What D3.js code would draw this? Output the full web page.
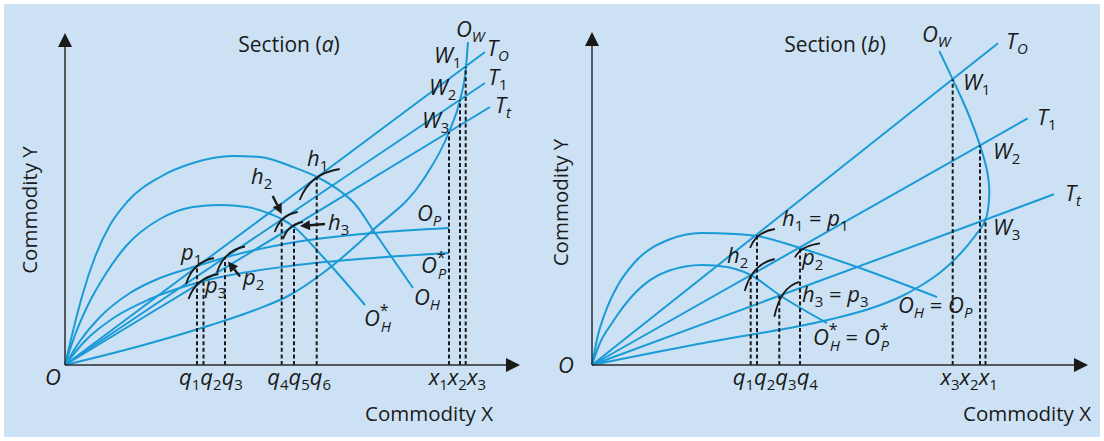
<!DOCTYPE html>
<html>
<head>
<meta charset="utf-8">
<script src="https://cdn.jsdelivr.net/npm/d3@7"></script>
<style>
html, body { margin: 0; padding: 0; background: #fff; }
svg text { font-family: "Open Sans", "Noto Sans", sans-serif; fill: #1a1a1a; }
</style>
</head>
<body>
<div id="chart"></div>
<script>
// ---- Section (a) : values (arbitrary units) ----
const raysA = [[420, 313], [420, 282], [425, 258]];               // T_O, T_1, T_t end points
const ohA = [[0,0],[8,34],[18,72],[30,108],[45,140],[62,163],[95,188],[128,202],[168,209],[195,208],[228,198],[252,188],[275,174],[290,161],[308,135],[348,77]];
const ohStarA = [[0,0],[10,30],[22,58],[40,90],[62,120],[95,146],[128,158],[155,160],[182,158],[208,150],[216.7,146],[229,138],[258,108],[300,60]];
const opA = [[0,0],[15,24],[35,48],[65,72],[95,87],[132,99],[160,107.5],[225,122],[308,132],[384,137]];
const opStarA = [[0,0],[20,24],[50,48],[85,66],[138.5,84],[225,99],[308,107],[384,112]];
const owA = [[0,0],[75,19],[146,40],[190,55],[225,70],[258,92],[308,135],[358,185],[384,233],[395,265],[401,298],[403,323]];
// intersection points that drop to the x axis: p1, p3, p2, h2, h3, h1, W3, W2, W1
const dropsA = [[132,98],[138.5,84],[160,107.5],[216.7,146],[229,139],[251.7,188],[384,233],[395,265],[400.7,298]];
const ticksA = [[["q1","q2","q3"], 0, 2], [["q4","q5","q6"], 3, 5], [["x1","x2","x3"], 6, 8]];
const labelsA = [
  ["OW", 391, 328], ["TO", 422, 309], ["T1", 423, 280], ["Tt", 430, 252],
  ["W1", 369, 302], ["W2", 364, 270], ["W3", 357, 237],
  ["h1", 242, 199], ["h2", 186, 181], ["h3", 263, 135],
  ["p1", 116, 105], ["p3", 140, 72], ["p2", 178, 80],
  ["OP", 352, 144], ["OP*", 356, 92], ["OH", 349, 60], ["OH*", 299, 39]
];

// ---- Section (b) ----
const raysB = [[406, 321.7], [435.7, 246.7], [462, 170.7]];
const ohB = [[0,0],[6,30],[13,52],[26,80],[43,103],[76,125],[110,132],[143,131],[165,129],[208,117],[265,98],[345,68]];
const ohStarB = [[0,0],[8,22],[20,42],[43,72],[76,94],[110,100],[135,98],[158.7,90],[187.3,70],[235,42]];
const owB = [[0,0],[101,20],[208,39],[240,46],[277,56],[308,68],[330,80],[350,94],[368,111],[383,129],[393.5,145],[397.3,172],[395.5,192],[388,219.6],[374.7,255],[360.7,285.7],[347.3,314]];
// h2, h1=p1, h3=p3, p2, W1, W2, W3
const dropsB = [[158.7,90],[165,130],[187.3,69.2],[208,117.7],[360.7,285.7],[388,219.6],[393.5,145.4]];
const ticksB = [[["q1","q2","q3","q4"], 0, 3], [["x3","x2","x1"], 4, 6]];
const labelsB = [
  ["OW", 330, 323], ["TO", 414, 316], ["T1", 445, 240], ["Tt", 473, 164],
  ["W1", 371, 275], ["W2", 401, 206], ["W3", 401, 130],
  ["h1 = p1", 190, 139], ["h2", 135, 102], ["p2", 210, 100], ["h3 = p3", 210, 63],
  ["OH = OP", 306, 52], ["OH* = OP*", 221, 20]
];

// small indifference-curve arcs: [drop index, start dx, start dy, end dx, end dy] (px)
const arcsA = [[5,-17,23,23,-8],[3,-7,13,16,-7],[4,-11,13,9,-4],[0,-11,17,17,-9],[1,-15,18,15,-7],[2,-8,15,20,-11]];
const arcsB = [[1,-7,13,18,-6],[0,-6,16,24,-16],[3,-5,10,20,-4],[2,-5,21,20,-14]];
// pointer arrows: [drop index, tip dx, tip dy, tail dx, tail dy] (px)
const arrowsA = [[3,0,-5,-9,-23],[4,6,0,31,-2],[2,3,4,15,19]];

const BLUE = "#1a9ad6", INK = "#1a1a1a", AXIS = "#2a2a2a";
const FS = 22, SUB = 15;

const svg = d3.select("#chart").append("svg").attr("width", 1104).attr("height", 441);
svg.append("rect").attr("x", 4).attr("y", 4).attr("width", 1096).attr("height", 433).attr("fill", "#cce2f4");

function mathText(g, tokens, x, y, anchor) {
    const t = g.append("text").attr("x", x).attr("y", y)
        .attr("text-anchor", anchor || "start").attr("font-size", FS);
    let shift = 0;
    const span = (txt, o) => {
        const s = t.append("tspan").text(txt)
            .attr("font-size", o.size || FS)
            .attr("font-style", o.italic ? "italic" : "normal")
            .attr("dy", (o.base || 0) - shift);
        if (o.dx) s.attr("dx", o.dx);
        shift = o.base || 0;
    };
    tokens.forEach(tok => {
        if (tok === "=") { span(" = ", {}); return; }
        const star = tok.endsWith("*");
        const body = star ? tok.slice(0, -1) : tok;
        span(body[0], { italic: true });
        const sub = body.slice(1);
        const subItalic = !/^\d+$/.test(sub);
        if (star) {
            span("*", { size: 16, base: -10 });
            span(sub, { size: SUB, base: 6, italic: subItalic, dx: -8 });
        } else if (sub) {
            span(sub, { size: SUB, base: 5, italic: subItalic });
        }
    });
    return t;
}

function drawPanel(p) {
    const { x, y } = p;
    const g = svg.append("g");
    const line = d3.line().x(d => x(d[0])).y(d => y(d[1]));

    // rays from the origin
    g.selectAll(".ray").data(p.rays).enter().append("line")
        .attr("x1", x(0)).attr("y1", y(0))
        .attr("x2", d => x(d[0])).attr("y2", d => y(d[1]))
        .attr("stroke", BLUE).attr("stroke-width", 2);

    // offer curves
    g.selectAll(".curve").data(p.curves).enter().append("path")
        .attr("d", c => line.curve(c[1])(c[0])).attr("fill", "none")
        .attr("stroke", BLUE).attr("stroke-width", 2);

    // dashed drop lines
    g.selectAll(".drop").data(p.drops).enter().append("line")
        .attr("x1", d => x(d[0])).attr("x2", d => x(d[0]))
        .attr("y1", y(0)).attr("y2", d => y(d[1]))
        .attr("stroke", INK).attr("stroke-width", 2).attr("stroke-dasharray", "4,2.6");

    // indifference arcs
    g.selectAll(".arc").data(p.arcs).enter().append("path")
        .attr("d", a => {
            const px = x(p.drops[a[0]][0]), py = y(p.drops[a[0]][1]);
            const sx = px + a[1], sy = py + a[2], ex = px + a[3], ey = py + a[4];
            const cx = sx + 0.25 * (ex - sx), cy = ey + 0.15 * (sy - ey);
            return `M${sx},${sy}Q${cx},${cy} ${ex},${ey}`;
        })
        .attr("fill", "none").attr("stroke", INK).attr("stroke-width", 1.8);

    // pointer arrows
    (p.arrows || []).forEach(a => {
        const px = x(p.drops[a[0]][0]), py = y(p.drops[a[0]][1]);
        const tx = px + a[1], ty = py + a[2], fx = px + a[3], fy = py + a[4];
        const ang = Math.atan2(ty - fy, tx - fx);
        const L = 10, Wd = 5;
        const bx = tx - L * Math.cos(ang), by = ty - L * Math.sin(ang);
        g.append("line").attr("x1", fx).attr("y1", fy).attr("x2", bx).attr("y2", by)
            .attr("stroke", INK).attr("stroke-width", 2.4);
        g.append("path")
            .attr("d", `M${tx},${ty}L${bx - Wd * Math.sin(ang)},${by + Wd * Math.cos(ang)}L${bx + Wd * Math.sin(ang)},${by - Wd * Math.cos(ang)}Z`)
            .attr("fill", INK);
    });

    // axes with arrow heads
    const ox = x(0), oy = y(0), xt = x(x.domain()[1]), yt = y(y.domain()[1]);
    g.append("line").attr("x1", ox).attr("y1", oy).attr("x2", ox).attr("y2", yt + 10)
        .attr("stroke", AXIS).attr("stroke-width", 1.5);
    g.append("line").attr("x1", ox).attr("y1", oy).attr("x2", xt - 10).attr("y2", oy)
        .attr("stroke", AXIS).attr("stroke-width", 1.5);
    g.append("path").attr("d", `M${ox},${yt}L${ox - 7},${yt + 14}L${ox + 7},${yt + 14}Z`).attr("fill", INK);
    g.append("path").attr("d", `M${xt},${oy}L${xt - 14},${oy - 7}L${xt - 14},${oy + 7}Z`).attr("fill", INK);

    // tick labels under the dashed lines
    p.ticks.forEach(t => {
        const cx = (x(p.drops[t[1]][0]) + x(p.drops[t[2]][0])) / 2;
        mathText(g, t[0], cx, oy + 20, "middle");
    });

    // curve and point labels
    p.labels.forEach(l => mathText(g, l[0].split(" "), x(l[1]), y(l[2])));

    // origin
    g.append("text").attr("x", x(p.origin[0])).attr("y", y(p.origin[1]))
        .attr("font-size", FS).attr("font-style", "italic").text("O");

    // section title
    const st = g.append("text").attr("x", x(p.title[1])).attr("y", y(p.title[2]))
        .attr("text-anchor", "middle").attr("font-size", 21);
    st.append("tspan").text("Section (");
    st.append("tspan").attr("font-style", "italic").text(p.title[0]);
    st.append("tspan").text(")");

    // axis titles
    g.append("text").attr("x", x(p.xTitle[0])).attr("y", y(p.xTitle[1]))
        .attr("text-anchor", "end").attr("font-size", 20.5).text("Commodity X");
    g.append("text")
        .attr("transform", `translate(${x(p.yTitle[0])},${y(p.yTitle[1])}) rotate(-90)`)
        .attr("text-anchor", "middle").attr("font-size", 20.5).text("Commodity Y");
}

const mono = d3.curveMonotoneX, loop = d3.curveCatmullRom.alpha(0.5);

drawPanel({
    x: d3.scaleLinear().domain([0, 455]).range([65, 520]),
    y: d3.scaleLinear().domain([0, 332]).range([365, 33]),
    rays: raysA, curves: [[ohA, mono], [ohStarA, mono], [opA, mono], [opStarA, mono], [owA, mono]],
    drops: dropsA, ticks: ticksA, arcs: arcsA, arrows: arrowsA, labels: labelsA,
    origin: [-20, -20], title: ["a", 224, 313], xTitle: [428, -56], yTitle: [-28, 155]
});

drawPanel({
    x: d3.scaleLinear().domain([0, 496]).range([592, 1088]),
    y: d3.scaleLinear().domain([0, 333]).range([365, 32]),
    rays: raysB, curves: [[ohB, mono], [ohStarB, mono], [owB, loop]],
    drops: dropsB, ticks: ticksB, arcs: arcsB, labels: labelsB,
    origin: [-34, -8], title: ["b", 243, 313], xTitle: [499, -56], yTitle: [-24, 162.5]
});
</script>
</body>
</html>
